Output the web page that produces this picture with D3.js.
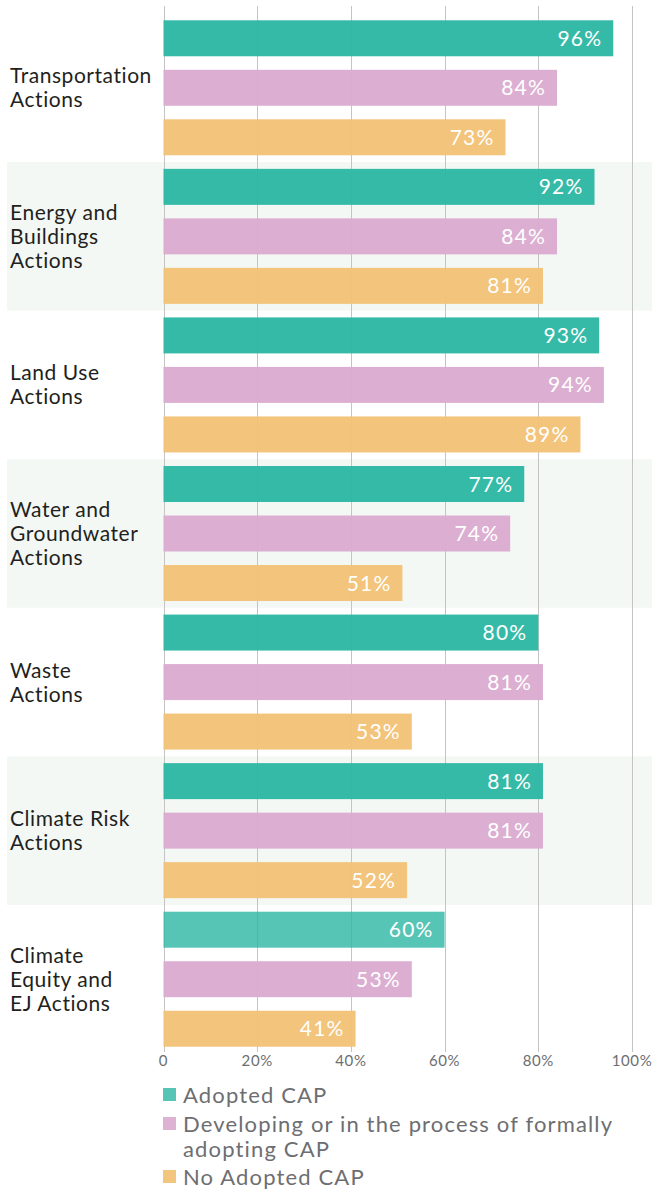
<!DOCTYPE html>
<html><head><meta charset="utf-8">
<script src="https://cdn.jsdelivr.net/npm/d3@7"></script>
<style>
html,body{margin:0;padding:0;background:#fff;}
svg{display:block;font-family:Lato,"Open Sans",sans-serif;}
</style></head>
<body>
<svg id="chart" width="652" height="1194"></svg>
<script>
const categories = [
  ["Transportation","Actions"],
  ["Energy and","Buildings","Actions"],
  ["Land Use","Actions"],
  ["Water and","Groundwater","Actions"],
  ["Waste","Actions"],
  ["Climate Risk","Actions"],
  ["Climate","Equity and","EJ Actions"]
];
const seriesNames = ["Adopted CAP","Developing or in the process of formally adopting CAP","No Adopted CAP"];
const adopted    = [96, 92, 93, 77, 80, 81, 60];
const developing = [84, 84, 94, 74, 81, 81, 53];
const noAdopted  = [73, 81, 89, 51, 53, 52, 41];
const tickValues = [0, 20, 40, 60, 80, 100];
const tickLabels = ["0", "20%", "40%", "60%", "80%", "100%"];
const colors = ["#2db7a4", "#dbacd0", "#f2c276"];
const legendLines = [["Adopted CAP"], ["Developing or in the process of formally", "adopting CAP"], ["No Adopted CAP"]];

const series = [adopted, developing, noAdopted];
const svg = d3.select("#chart");
const x = d3.scaleLinear().domain([0, 100]).range([163.5, 632]);
const y = d3.scaleBand().domain(d3.range(categories.length)).range([13.5, 1053.5]).padding(0);
const yi = d3.scaleBand().domain([0,1,2]).range([0, y.bandwidth()]).paddingInner(0.273).paddingOuter(0.137);

// stripes
svg.append("g").selectAll("rect").data(d3.range(categories.length).filter(i => i % 2 === 1))
  .join("rect").attr("x", 7).attr("width", 652 - 7)
  .attr("y", i => y(i)).attr("height", y.bandwidth()).attr("fill", "#f4f8f5");

// grid
svg.append("g").selectAll("line").data(tickValues).join("line")
  .attr("x1", d => Math.round(x(d)) + 0.5).attr("x2", d => Math.round(x(d)) + 0.5)
  .attr("y1", 6).attr("y2", 1052).attr("stroke", "#c4c4c4").attr("stroke-width", 1);

// bars
const flat = [];
categories.forEach((c, i) => series.forEach((s, j) => flat.push({i, j, v: s[i]})));
const bars = svg.append("g");
bars.selectAll("rect").data(flat).join("rect")
  .attr("x", x(0)).attr("y", d => y(d.i) + yi(d.j))
  .attr("width", d => x(d.v) - x(0)).attr("height", yi.bandwidth())
  .attr("fill", d => colors[d.j])
  .attr("fill-opacity", d => (d.j === 0 && d.i === categories.length - 1) ? 0.8 : 0.96);
bars.selectAll("text").data(flat).join("text")
  .attr("x", d => x(d.v) - 11).attr("y", d => y(d.i) + yi(d.j) + yi.bandwidth() / 2)
  .attr("dy", "0.36em").attr("text-anchor", "end")
  .attr("fill", "#fff").attr("font-size", 21).attr("letter-spacing", 1.2)
  .text(d => d.v + "%");

// category labels
const lab = svg.append("g").selectAll("text").data(categories).join("text")
  .attr("x", 10).attr("font-size", 21).attr("fill", "#231f20").attr("letter-spacing", 0.55)
  .attr("y", (d, i) => y(i) + y.bandwidth() / 2);
lab.each(function(d){
  const t = d3.select(this);
  const n = d.length;
  d.forEach((line, k) => {
    t.append("tspan").attr("x", 10)
      .attr("dy", k === 0 ? ((-(n - 1) / 2) * 24 + 7.5) + "px" : "24px")
      .text(line);
  });
});

// x axis labels
svg.append("g").selectAll("text").data(tickValues).join("text")
  .attr("x", d => x(d)).attr("y", 1066).attr("text-anchor", "middle")
  .attr("fill", "#6d6e71").attr("font-size", 15).attr("letter-spacing", 0.6)
  .text((d, i) => tickLabels[i]);

// legend
const leg = svg.append("g");
const legY = [1095, 1124, 1177];
legendLines.forEach((lines, j) => {
  const ly = legY[j];
  leg.append("rect").attr("x", 163).attr("y", ly - 7).attr("width", 13).attr("height", 13)
    .attr("fill", colors[j]).attr("fill-opacity", j === 0 ? 0.8 : 0.93);
  const t = leg.append("text").attr("x", 183).attr("y", ly)
    .attr("font-size", 22).attr("letter-spacing", 1.15).attr("fill", "#6d6e71");
  lines.forEach((line, k) => {
    t.append("tspan").attr("x", 183).attr("dy", k === 0 ? "0.35em" : "25.5px").text(line);
  });
});
</script>
</body></html>
